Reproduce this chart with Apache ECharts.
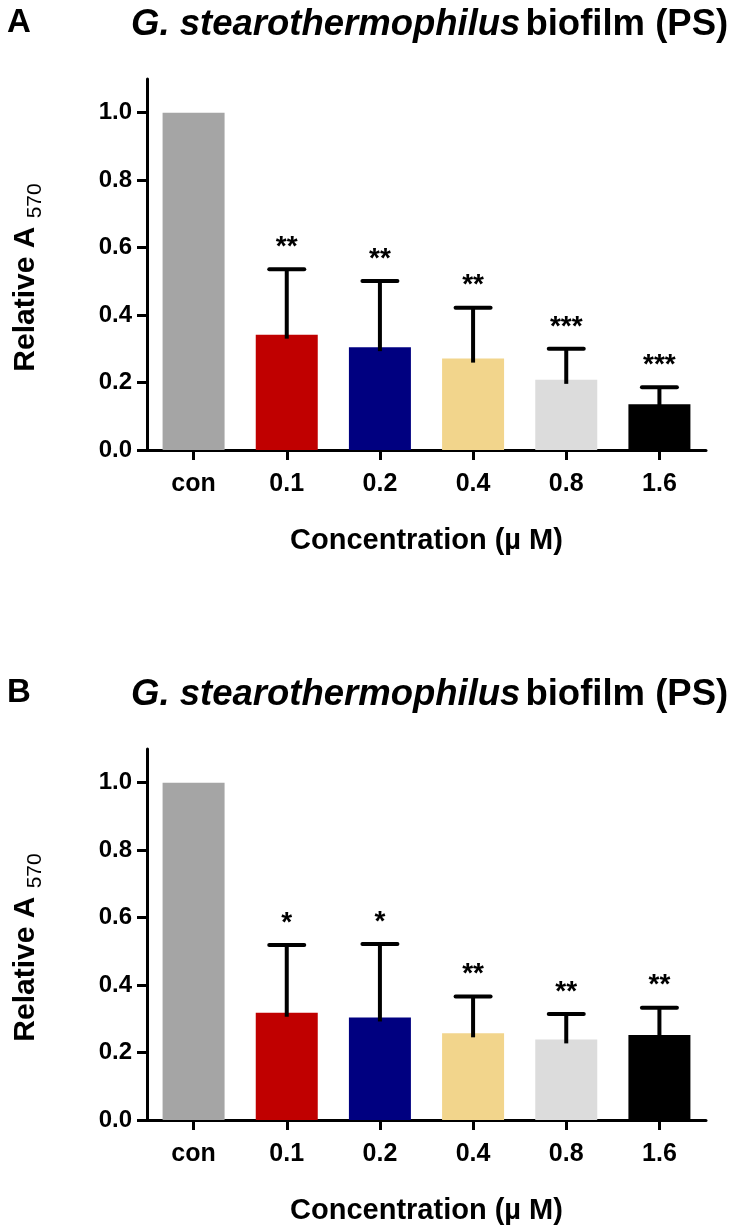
<!DOCTYPE html>
<html><head><meta charset="utf-8">
<script src="https://cdn.jsdelivr.net/npm/echarts@6/dist/echarts.min.js"></script>
<style>html,body{margin:0;padding:0;background:#fff}#c{width:732px;height:1232px}</style>
</head><body><div id="c"></div>
<script>
const categories = ['con', '0.1', '0.2', '0.4', '0.8', '1.6'];
const barColors = ['#a5a5a5', '#c00000', '#000080', '#f2d58c', '#dcdcdc', '#000000'];
const meanA = [1.0, 0.342, 0.305, 0.271, 0.208, 0.136];
const errTopA = [null, 0.536, 0.501, 0.422, 0.300, 0.186];
const sigA = ['', '**', '**', '**', '***', '***'];
const meanB = [1.0, 0.318, 0.304, 0.257, 0.239, 0.252];
const errTopB = [null, 0.519, 0.522, 0.366, 0.314, 0.333];
const sigB = ['', '*', '*', '**', '**', '**'];
const yTicks = [0, 0.2, 0.4, 0.6, 0.8, 1.0];
const panelLetters = ['A', 'B'];
const titleItalic = 'G. stearothermophilus';
const titleRest = 'biofilm (PS)';
const xName = 'Concentration (\u00b5 M)';
const yNameMain = 'Relative A';
const yNameSub = '570';

const FF = '"Liberation Sans", Arial, sans-serif';
const chart = echarts.init(document.getElementById('c'));

const grids = [
  {left: 147, top: 79, width: 559, height: 371, outerBoundsMode: 'none', containLabel: false},
  {left: 147, top: 749, width: 559, height: 371, outerBoundsMode: 'none', containLabel: false}
];

function xAxisFor(gi) {
  return {
    type: 'category', gridIndex: gi, data: categories,
    axisLine: {lineStyle: {color: '#000', width: 3}},
    axisTick: {show: true, alignWithLabel: true, interval: 0, length: 10, lineStyle: {color: '#000', width: 3}},
    axisLabel: {interval: 0, margin: 22, color: '#000', fontFamily: FF, fontWeight: 'bold', fontSize: 25},
    name: xName, nameLocation: 'middle', nameGap: 76,
    nameTextStyle: {color: '#000', fontFamily: FF, fontWeight: 'bold', fontSize: 29}
  };
}
function yAxisFor(gi) {
  return {
    type: 'value', gridIndex: gi, min: 0, max: 1.1,
    splitLine: {show: false},
    axisLine: {show: true, lineStyle: {color: '#000', width: 3}},
    axisTick: {show: true, length: 10, customValues: yTicks, lineStyle: {color: '#000', width: 3}},
    axisLabel: {margin: 15, customValues: yTicks, formatter: v => v.toFixed(1), color: '#000', fontFamily: FF, fontWeight: 'bold', fontSize: 24},
    name: '{a|' + yNameMain + ' }{s|' + yNameSub + '}',
    nameLocation: 'middle', nameGap: 106, nameRotate: 90,
    nameTextStyle: {
      color: '#000',
      padding: [0, 26, 0, 0],
      rich: {
        a: {fontFamily: FF, fontWeight: 'bold', fontSize: 30, color: '#000'},
        s: {fontFamily: FF, fontWeight: 'normal', fontSize: 21, color: '#000', verticalAlign: 'bottom', padding: [0, 0, -5, 0]}
      }
    }
  };
}

function barSeries(gi, means) {
  return {
    type: 'bar', xAxisIndex: gi, yAxisIndex: gi, barWidth: 62,
    data: means.map((v, i) => ({value: v, itemStyle: {color: barColors[i]}})),
    silent: true
  };
}
function errSeries(gi, means, tops, sig) {
  const data = [];
  means.forEach((m, i) => { if (tops[i] != null) data.push([i, m, tops[i]]); });
  return {
    type: 'custom', xAxisIndex: gi, yAxisIndex: gi, z: 5,
    encode: {x: 0, y: [1, 2]},
    data: data,
    renderItem: function (params, api) {
      const i = api.value(0);
      const p0 = api.coord([i, api.value(1)]);
      const p1 = api.coord([i, api.value(2)]);
      const hw = 17.5;
      return {
        type: 'group', children: [
          {type: 'line', shape: {x1: p0[0], y1: p0[1] + 4, x2: p1[0], y2: p1[1]}, style: {stroke: '#000', lineWidth: 4}},
          {type: 'line', shape: {x1: p1[0] - hw, y1: p1[1], x2: p1[0] + hw, y2: p1[1]}, style: {stroke: '#000', lineWidth: 4, lineCap: 'round'}},
          {type: 'text', x: p1[0], y: p1[1] - 22, style: {text: sig[i], align: 'center', verticalAlign: 'middle', textAlign: 'center', textVerticalAlign: 'middle', font: 'bold 28px ' + FF, fill: '#000'}}
        ]
      };
    }
  };
}

function titleFor(idx, top) {
  return [
    {text: panelLetters[idx], left: 7, top: top + 6, padding: 0, textStyle: {fontFamily: FF, fontWeight: 'bold', fontSize: 33, color: '#000'}},
    {
      text: '{i|' + titleItalic + '} {b|' + titleRest + '}', left: 131, top: top + 6, padding: 0,
      textStyle: {
        rich: {
          i: {fontFamily: FF, fontWeight: 'bold', fontStyle: 'italic', fontSize: 36.5, color: '#000'},
          b: {fontFamily: FF, fontWeight: 'bold', fontSize: 36.5, color: '#000'}
        }
      }
    }
  ];
}

chart.setOption({
  backgroundColor: '#fff',
  animation: false,
  title: titleFor(0, 0).concat(titleFor(1, 670)),
  grid: grids,
  xAxis: [xAxisFor(0), xAxisFor(1)],
  yAxis: [yAxisFor(0), yAxisFor(1)],
  series: [
    barSeries(0, meanA), errSeries(0, meanA, errTopA, sigA),
    barSeries(1, meanB), errSeries(1, meanB, errTopB, sigB)
  ]
});
</script>
</body></html>
